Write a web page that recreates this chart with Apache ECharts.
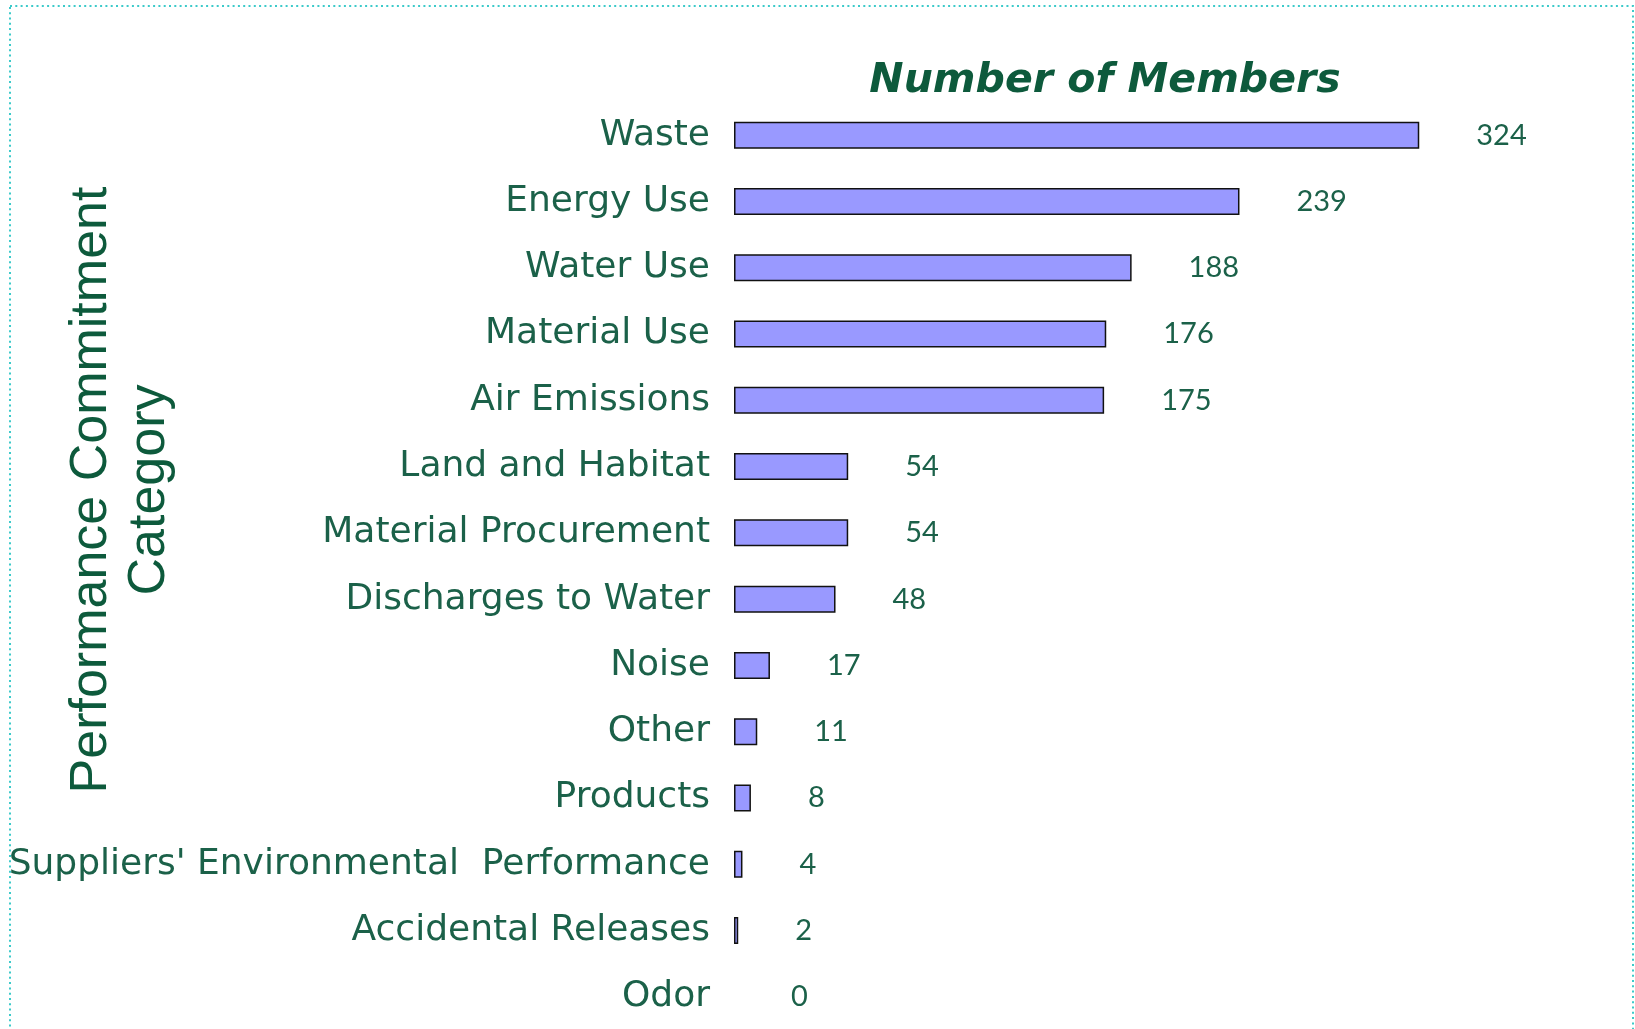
<!doctype html>
<html>
    <head>
        <meta charset="utf-8">
        <title>Number of Members</title>
        <style>
            html, body { margin: 0; padding: 0; background: #fff; }
            #main { width: 1635px; height: 1029px; }
        </style>
    </head>
    <body>
        <div id="main"></div>
        <script src="https://cdn.jsdelivr.net/npm/echarts@6/dist/echarts.min.js"></script>
        <script>
            var categories = [
                'Waste',
                'Energy Use',
                'Water Use',
                'Material Use',
                'Air Emissions',
                'Land and Habitat',
                'Material Procurement',
                'Discharges to Water',
                'Noise',
                'Other',
                'Products',
                "Suppliers' Environmental  Performance",
                'Accidental Releases',
                'Odor'
            ];
            var members = [324, 239, 188, 176, 175, 54, 54, 48, 17, 11, 8, 4, 2, 0];

            var titleText = 'Number of Members';
            var axisTitle = 'Performance Commitment\nCategory';

            var green = '#1b6149';
            var darkGreen = '#0d5a3c';

            var chart = echarts.init(document.getElementById('main'), null, {
                devicePixelRatio: 1
            });

            // zero-width bars get no outline
            var barData = members.map(function (v) {
                var item = { value: v };
                if (v === 0) {
                    item.itemStyle = { borderWidth: 0 };
                }
                return item;
            });

            chart.setOption({
                animation: false,
                backgroundColor: '#fff',
                title: {
                    text: titleText,
                    left: 1100,
                    top: 76,
                    textAlign: 'center',
                    textVerticalAlign: 'middle',
                    textStyle: {
                        fontFamily: 'DejaVu Sans',
                        fontWeight: 'bold',
                        fontStyle: 'italic',
                        fontSize: 41,
                        color: darkGreen
                    }
                },
                grid: {
                    left: 734,
                    top: 102,
                    width: 846,
                    height: 928,
                    outerBoundsMode: 'none'
                },
                xAxis: {
                    type: 'value',
                    min: 0,
                    max: 400,
                    show: false
                },
                yAxis: {
                    type: 'category',
                    inverse: true,
                    data: categories,
                    axisLine: { show: false },
                    axisTick: { show: false },
                    splitLine: { show: false },
                    axisLabel: {
                        margin: 24,
                        fontFamily: 'DejaVu Sans',
                        fontSize: 36,
                        color: green
                    }
                },
                graphic: [
                    {
                        type: 'rect',
                        silent: true,
                        shape: { x: 10, y: 6, width: 1623, height: 1100 },
                        style: {
                            fill: 'none',
                            stroke: '#3ccaca',
                            lineWidth: 2,
                            lineDash: [2, 3.3]
                        }
                    },
                    {
                        type: 'text',
                        silent: true,
                        x: 121,
                        y: 490,
                        rotation: Math.PI / 2,
                        style: {
                            text: axisTitle,
                            fontFamily: 'Liberation Sans',
                            fontSize: 52,
                            lineHeight: 58,
                            fill: darkGreen,
                            align: 'center',
                            verticalAlign: 'middle'
                        }
                    }
                ],
                series: [{
                    type: 'bar',
                    data: barData,
                    barWidth: 27,
                    itemStyle: {
                        color: '#9999ff',
                        borderColor: '#111',
                        borderWidth: 1.5
                    },
                    label: {
                        show: true,
                        position: 'right',
                        distance: 57,
                        fontFamily: 'Lato',
                        fontSize: 29,
                        color: green
                    }
                }]
            });

            window.onresize = chart.resize;
        </script>
    </body>
</html>
